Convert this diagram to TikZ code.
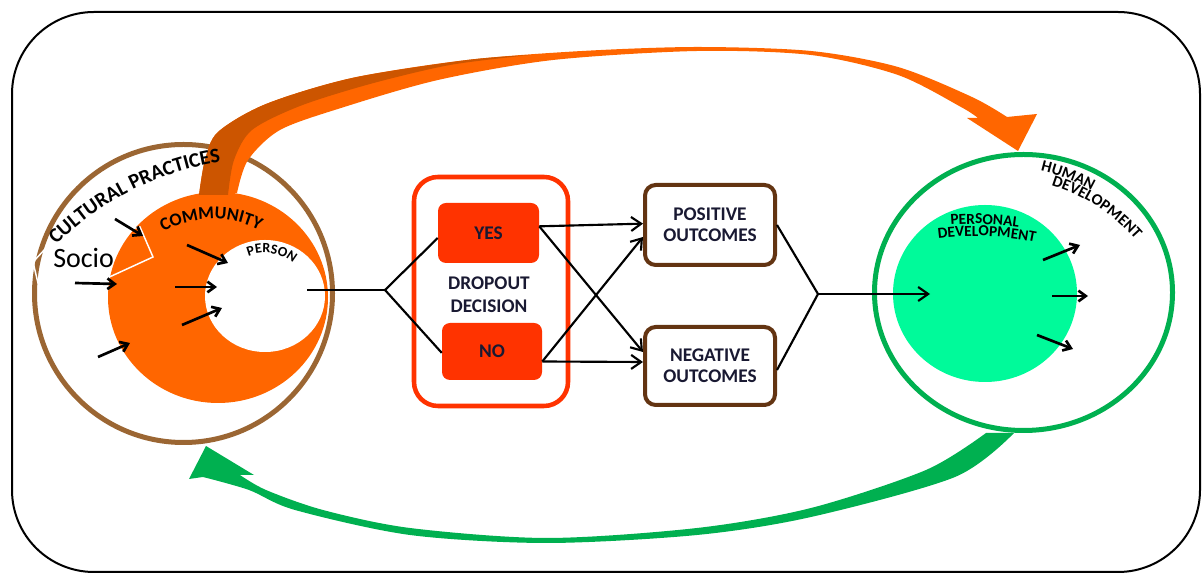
\documentclass[tikz,border=0pt]{standalone}
\usepackage{fontspec}
\setmainfont{Carlito}
\usetikzlibrary{arrows.meta,decorations.text}

\definecolor{ribbonorange}{RGB}{255,102,0}
\definecolor{ribbondark}{RGB}{204,85,0}
\definecolor{ringbrown}{RGB}{155,102,51}
\definecolor{ringgreen}{RGB}{0,176,80}
\definecolor{softgreen}{RGB}{0,250,154}
\definecolor{decisionred}{RGB}{255,51,0}
\definecolor{boxbrown}{RGB}{99,52,18}
\definecolor{labelnavy}{RGB}{25,25,50}

\tikzset{
  link/.style={line width=1.6pt, black},
  linkarrow/.style={link, -{Straight Barb[length=7.5pt,width=10.5pt]}},
  flowarrow/.style={line width=2pt, black, -{Straight Barb[length=5.5pt,width=8pt]}},
  choice/.style={fill=decisionred, rounded corners=6pt, inner sep=0pt,
    font=\bfseries\fontsize{14.5}{16}\selectfont, text=labelnavy},
  outcome/.style={draw=boxbrown, line width=3pt, rounded corners=8pt, fill=white,
    minimum width=97.5pt, align=center, inner sep=0pt,
    font=\bfseries\fontsize{14.5}{15.5}\selectfont, text=labelnavy},
  arclabel/.style={decorate, decoration={text along path, text align=center, text={#1}}},
}

\begin{document}
\begin{tikzpicture}[x=0.75pt,y=0.75pt]
\useasboundingbox (0,0) rectangle (1203,574);

% frame
\draw[line width=1.5pt, rounded corners=61.5pt] (12,2) rectangle (1200,562);

% centres
\coordinate (hub) at (183.5,280.5);
\coordinate (comm) at (218,276.5);
\coordinate (pers) at (265,278);
\coordinate (human) at (1023.5,281.5);
\coordinate (growth) at (985,280.5);

% left rings
\draw[ringbrown, line width=3.75pt] (hub) circle[radius=149];
\fill[ribbonorange] (comm) ellipse[x radius=110, y radius=105.5];
\fill[white] (pers) ellipse[x radius=60, y radius=56];

% "Socio" text box outline
\draw[white, line width=1.1pt] (38,291) -- (33,312) -- (47,327) -- (140,347) -- (153,317) -- (92,289) -- cycle;
\node[anchor=base west, inner sep=0pt, font=\fontsize{21}{21}\selectfont] (socio) at (53,306) {Socio};

% right rings
\draw[ringgreen, line width=3.75pt] (human) ellipse[x radius=149, y radius=138];
\fill[softgreen] (growth) ellipse[x radius=92, y radius=88.5];

% orange ribbon arrow
\fill[ribbonorange] plot[smooth] coordinates {(199,379) (205,414) (218,442) (266,470) (352,496) (467,514) (582,523) (697,527) (811,523) (898,507) (972,477) (1007,457)}
  -- (1037,460) -- (1018,423) -- (967,456)
  -- plot[smooth] coordinates {(978,456) (961,467) (898,499) (811,519) (697,523) (553,514) (438,494) (341,466) (280,444) (248,414) (237,381)} -- cycle;
\fill[ribbondark] plot[smooth] coordinates {(199,379) (205,414) (218,442) (266,470) (352,496) (467,514) (530,519)}
  -- plot[smooth] coordinates {(530,519) (450,509) (370,490) (300,468) (252,444) (234,414) (228,379)} -- cycle;

% green ribbon arrow
\fill[ringgreen] plot[smooth] coordinates {(1014,141) (955,97) (811,57) (697,39) (547,31) (410,39) (295,64) (249,84) (203,97)}
  -- (189,95) -- (206,128) -- (254,99)
  -- plot[smooth] coordinates {(240,99) (266,84) (323,64) (410,46) (547,36) (697,46) (811,66) (926,104) (986,141)} -- cycle;

% decision block
\node[draw=decisionred, line width=3.4pt, rounded corners=18pt, minimum width=115.5pt, minimum height=171.75pt] (frame) at (491,282.5) {};
\node[choice, minimum width=75.75pt, minimum height=45pt] (yes) at (488.5,341) {YES};
\node[choice, minimum width=75pt, minimum height=42.75pt] (no) at (492,222.5) {NO};
\node[align=center, inner sep=0pt, font=\bfseries\fontsize{14.5}{17}\selectfont, text=labelnavy] (dropout) at (489,279) {DROPOUT\\DECISION};

% outcomes
\node[outcome, minimum height=60pt] (pos) at (710,349) {POSITIVE\\OUTCOMES};
\node[outcome, minimum height=58.5pt] (neg) at (710,208) {NEGATIVE\\OUTCOMES};

% connectors
\coordinate (pout) at (307,284);
\coordinate (split) at (385,284);
\coordinate (merge) at (818,280);
\coordinate (pdin) at (930,280);
\draw[link] (pout) -- (split);
\draw[link] (split) -- ([yshift=-3.75pt]yes.west);
\draw[link] (split) -- ([yshift=-1pt]no.west);
\draw[linkarrow] ([yshift=5pt]yes.east) -- ([yshift=1pt]pos.west);
\draw[linkarrow] ([yshift=5pt]yes.east) -- ([yshift=10.5pt]neg.west);
\draw[linkarrow] ([yshift=-7.5pt]no.east) -- ([yshift=3pt]neg.west);
\draw[linkarrow] ([yshift=-7.5pt]no.east) -- ([yshift=-9pt]pos.west);
\draw[link] (pos.east) -- (merge);
\draw[link] ([yshift=-3pt]neg.east) -- (merge);
\draw[linkarrow] (merge) -- (pdin);

% influence arrows, left
\foreach \a/\b in {{(115,355)}/{(143,338)}, {(75,291)}/{(117,290)}, {(98,217)}/{(130,231)},
                   {(187,329)}/{(228,311)}, {(175,287)}/{(217,287)}, {(182,249)}/{(222,266)}}
  \draw[flowarrow] \a -- \b;
% outgoing arrows, right
\foreach \a/\b in {{(1043,314)}/{(1080,329)}, {(1052,278)}/{(1088,278)}, {(1037,239)}/{(1073,225)}}
  \draw[flowarrow] \a -- \b;

% curved labels
\coordinate (cpc) at (264,121);
\path[arclabel={|\bfseries\fontsize{15.5}{15.5}\selectfont|CULTURAL PRACTICES}]
  ([shift={(143:294)}]cpc) arc[start angle=143, end angle=90.4, radius=294];
\coordinate (cmc) at (213,251);
\path[arclabel={|\bfseries\fontsize{13.5}{13.5}\selectfont|COMMUNITY}]
  ([shift={(140:104)}]cmc) arc[start angle=140, end angle=42, radius=104];
\path[arclabel={|\bfseries\fontsize{10.5}{10.5}\selectfont|PERSON}]
  ([shift={(140:43)}]pers) arc[start angle=140, end angle=22, radius=43];
\coordinate (hdc) at (997,213);
\path[arclabel={|\bfseries\fontsize{12}{12}\selectfont|HUMAN}]
  ([shift={(95:195)}]hdc) arc[start angle=95, end angle=43, radius=195];
\path[arclabel={|\bfseries\fontsize{12}{12}\selectfont|DEVELOPMENT}]
  ([shift={(90:184)}]hdc) arc[start angle=90, end angle=24, radius=184];
\coordinate (pdc) at (975,42);
\path[arclabel={|\bfseries\fontsize{11.5}{11.5}\selectfont|PERSONAL}]
  ([shift={(105:308)}]pdc) arc[start angle=105, end angle=71.4, radius=308];
\path[arclabel={|\bfseries\fontsize{11.5}{11.5}\selectfont|DEVELOPMENT}]
  ([shift={(105:296)}]pdc) arc[start angle=105, end angle=70.4, radius=296];
\end{tikzpicture}
\end{document}
